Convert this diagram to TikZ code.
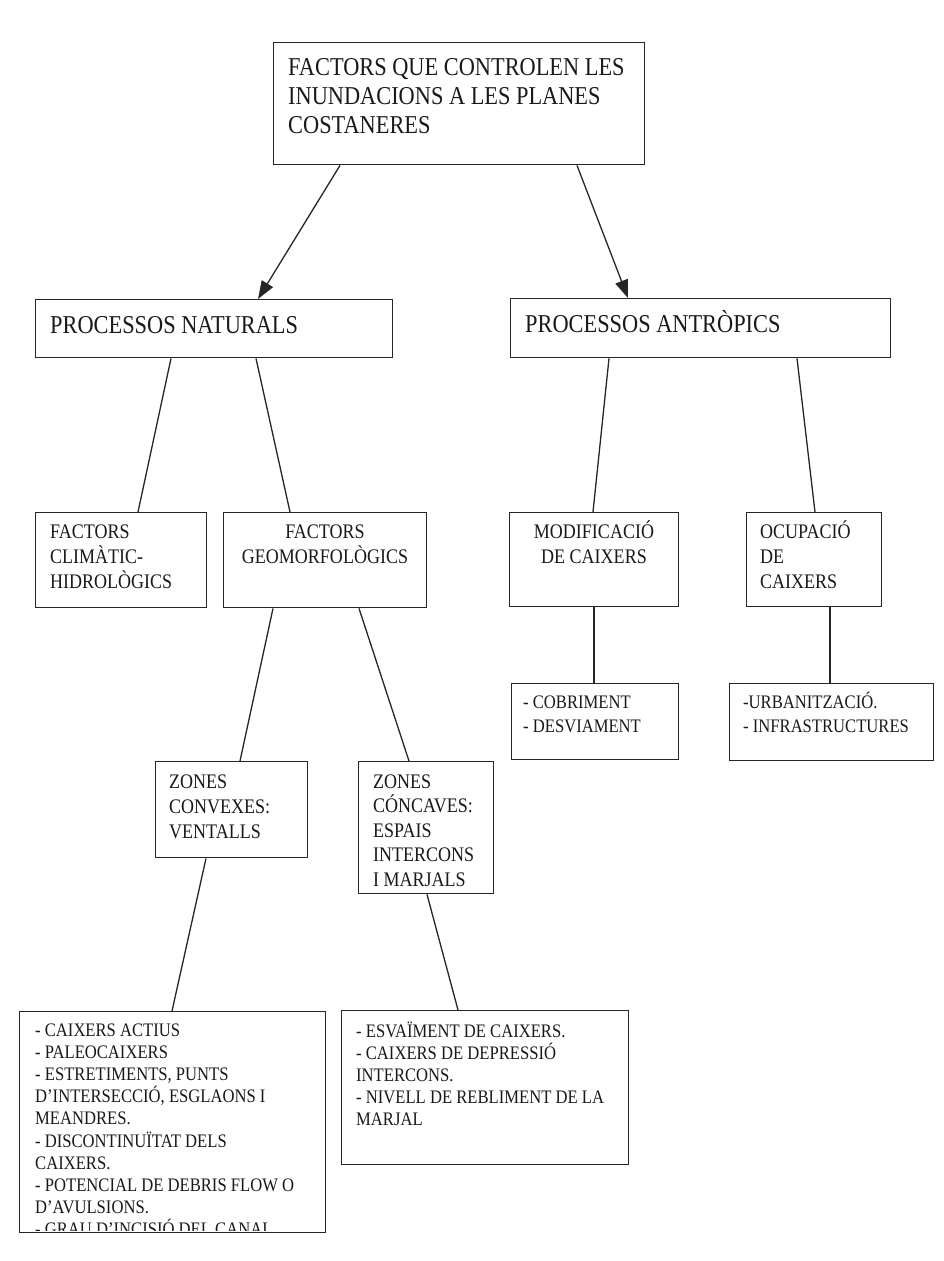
\documentclass[tikz,border=0pt]{standalone}
\usepackage{fontspec}
\setmainfont{Liberation Serif}[FakeStretch=0.87]
\usetikzlibrary{arrows.meta}
\newcommand\mlines[2]{\vtop{\baselineskip=#1\lineskiplimit=-100pt\lineskip=0pt\halign{##\hfil\cr#2\crcr}}}
\newcommand\clines[2]{\vtop{\baselineskip=#1\lineskiplimit=-100pt\lineskip=0pt\halign{\hfil##\hfil\cr#2\crcr}}}
\begin{document}
\begin{tikzpicture}[x=1pt,y=-1pt,
  box/.style={draw=black!85,line width=1.4pt,anchor=north west,inner sep=0pt},
  lbl/.style={inner sep=0pt,anchor=base west,text=black!90},
  clbl/.style={inner sep=0pt,anchor=base,text=black!90},
  big/.style={font=\fontsize{25.7}{29}\selectfont},
  mid/.style={font=\fontsize{20.7}{25}\selectfont},
  sml/.style={font=\fontsize{19.1}{22.2}\selectfont},
  conn/.style={draw=black!85,line width=1.3pt},
  arr/.style={conn,-{Triangle[length=18pt,width=13pt]}}]
\path[fill=white] (0,0) rectangle (943,1261);
\useasboundingbox (0,0) rectangle (943,1261);

% boxes
\node[box,minimum width=371pt,minimum height=122pt] (top) at (273,42) {};
\node[box,minimum width=357pt,minimum height=58pt] (nat) at (35,299) {};
\node[box,minimum width=380pt,minimum height=59pt] (ant) at (510,298) {};
\node[box,minimum width=171pt,minimum height=95pt] (clim) at (35,512) {};
\node[box,minimum width=203pt,minimum height=95pt] (geo) at (223,512) {};
\node[box,minimum width=169pt,minimum height=94pt] (mod) at (509,512) {};
\node[box,minimum width=135pt,minimum height=94pt] (ocu) at (746,512) {};
\node[box,minimum width=167pt,minimum height=76pt] (cob) at (511,683) {};
\node[box,minimum width=204pt,minimum height=77pt] (urb) at (729,683) {};
\node[box,minimum width=152pt,minimum height=96pt] (conv) at (155,761) {};
\node[box,minimum width=135pt,minimum height=132pt] (conc) at (358,761) {};
\node[box,minimum width=306pt,minimum height=221pt] (lista) at (19,1011) {};
\node[box,minimum width=287pt,minimum height=154pt] (listb) at (341,1010) {};

% texts
\node[lbl,big] (topT) at (288,75) {\mlines{29pt}{FACTORS QUE CONTROLEN LES\cr INUNDACIONS A LES PLANES\cr COSTANERES}};
\node[lbl,big] (natT) at (50,333) {PROCESSOS NATURALS};
\node[lbl,big] (antT) at (525,332) {PROCESSOS ANTRÒPICS};
\node[lbl,mid] (climT) at (50,538) {\mlines{25pt}{FACTORS\cr CLIMÀTIC-\cr HIDROLÒGICS}};
\node[clbl,mid] (geoT) at (325,538) {\clines{25pt}{FACTORS\cr GEOMORFOLÒGICS}};
\node[clbl,mid] (modT) at (594,538) {\clines{25pt}{MODIFICACIÓ\cr DE CAIXERS}};
\node[lbl,mid] (ocuT) at (760,538) {\mlines{25pt}{OCUPACIÓ\cr DE\cr CAIXERS}};
\node[lbl,sml] (cobT) at (523,708) {\mlines{24pt}{- COBRIMENT\cr - DESVIAMENT}};
\node[lbl,sml] (urbT) at (743,708) {\mlines{24pt}{-URBANITZACIÓ.\cr - INFRASTRUCTURES}};
\node[lbl,mid] (convT) at (169,788) {\mlines{25pt}{ZONES\cr CONVEXES:\cr VENTALLS}};
\node[lbl,mid] (concT) at (373,788) {\mlines{24.5pt}{ZONES\cr CÓNCAVES:\cr ESPAIS\cr INTERCONS\cr I MARJALS}};
\begin{scope}
\clip (20,1012) rectangle (324,1230);
\node[lbl,sml] (listaT) at (35,1036) {\mlines{22.2pt}{- CAIXERS ACTIUS\cr - PALEOCAIXERS\cr - ESTRETIMENTS, PUNTS\cr D’INTERSECCIÓ, ESGLAONS I\cr MEANDRES.\cr - DISCONTINUÏTAT DELS\cr CAIXERS.\cr - POTENCIAL DE DEBRIS FLOW O\cr D’AVULSIONS.\cr - GRAU D’INCISIÓ DEL CANAL.}};
\end{scope}
\node[lbl,sml] (listbT) at (356,1037) {\mlines{22pt}{- ESVAÏMENT DE CAIXERS.\cr - CAIXERS DE DEPRESSIÓ\cr INTERCONS.\cr - NIVELL DE REBLIMENT DE LA\cr MARJAL}};

% connectors
\draw[arr] ([xshift=67pt]top.south west) -- ([xshift=223pt]nat.north west);
\draw[arr] ([xshift=304pt]top.south west) -- ([xshift=118pt]ant.north west);
\draw[conn] ([xshift=136pt]nat.south west) -- ([xshift=103pt]clim.north west);
\draw[conn] ([xshift=221pt]nat.south west) -- ([xshift=67pt]geo.north west);
\draw[conn] ([xshift=99pt]ant.south west) -- ([xshift=84pt]mod.north west);
\draw[conn] ([xshift=287pt]ant.south west) -- ([xshift=69pt]ocu.north west);
\draw[conn] ([xshift=85pt]mod.south west) -- ([xshift=83pt]cob.north west);
\draw[conn] ([xshift=84pt]ocu.south west) -- ([xshift=101pt]urb.north west);
\draw[conn] ([xshift=50pt]geo.south west) -- ([xshift=85pt]conv.north west);
\draw[conn] ([xshift=136pt]geo.south west) -- ([xshift=51pt]conc.north west);
\draw[conn] ([xshift=51pt]conv.south west) -- ([xshift=153pt]lista.north west);
\draw[conn] ([xshift=69pt]conc.south west) -- ([xshift=117pt]listb.north west);
\end{tikzpicture}
\end{document}
